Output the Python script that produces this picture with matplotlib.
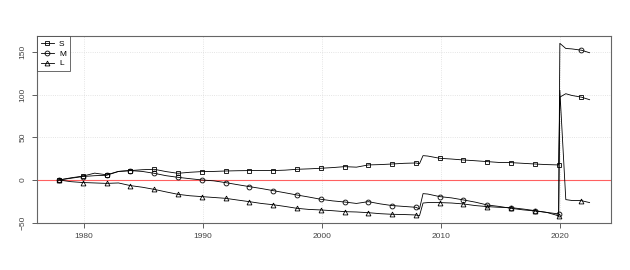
import matplotlib
matplotlib.use("Agg")
import matplotlib.pyplot as plt

plt.rcParams['font.family'] = ['Liberation Sans', 'DejaVu Sans']

# shared time axis (decimal years)
years = [1977.9, 1978.9, 1979.9, 1980.9, 1981.9, 1982.9, 1983.9, 1984.9, 1985.9, 1986.9,
         1987.9, 1988.9, 1989.9, 1990.9, 1991.9, 1992.9, 1993.9, 1994.9, 1995.9, 1996.9,
         1997.9, 1998.9, 1999.9, 2000.9, 2001.9, 2002.9, 2003.9, 2004.9, 2005.9, 2006.9,
         2007.9, 2008.2, 2008.5, 2008.9, 2009.9, 2010.9, 2011.9, 2012.9, 2013.9, 2014.9,
         2015.9, 2016.9, 2017.9, 2018.9, 2019.9, 2020.0, 2020.5, 2021.0, 2021.8, 2022.5]

S = [0, 2.5, 4.5, 8, 6, 10, 11, 12, 12.5, 9.8,
     7.8, 9, 9.8, 10, 10.5, 10.8, 11, 11, 11, 11.5,
     12.5, 13, 13.7, 14.5, 15.6, 15, 17.6, 18, 18.7, 19.5,
     19.9, 19, 28.5, 28, 25.4, 24.5, 23.4, 22.5, 21.5, 20.5,
     20.3, 19.5, 18.7, 18, 17.6, 97, 101, 99, 97, 94]

M = [0, 2, 4, 5, 5.5, 10, 11, 10, 7.8, 5,
     3.1, 1.5, 0, -1, -3.1, -5.5, -7.8, -10, -12.5, -15,
     -17.6, -20, -22.6, -24.5, -25.8, -27.5, -25.4, -28, -30, -31,
     -32, -34, -16, -16.5, -19.5, -21, -23.4, -26, -29.3, -31,
     -33.2, -35, -36.3, -38, -39.8, 160, 154, 153.5, 152, 149]

L = [0, -2, -3, -3.5, -4, -3.5, -6.6, -8.5, -11, -14,
     -16.8, -18.5, -19.5, -20.5, -21.5, -23.5, -25.4, -27.5, -29, -31,
     -33.2, -34.5, -35.1, -36, -37.1, -37.5, -38.3, -39.5, -40.2, -40.5,
     -41, -42, -27, -26.5, -26.5, -27, -28.1, -30, -31.2, -32,
     -32.4, -34, -35.9, -38, -42, 105, -23, -24, -24.2, -26.5]

marker_years = [1977.9 + 2 * k for k in range(22)] + [2021.8]
labels = ["S", "M", "L"]
markers = ["s", "o", "^"]

marks = [i for i, y in enumerate(years) if any(abs(y - m) < 0.01 for m in marker_years)]

fig = plt.figure(figsize=(6.3, 2.7), dpi=100)
ax = fig.add_axes([37 / 630, 47 / 270, 574 / 630, 187 / 270])

for vals, lab, mk in zip([S, M, L], labels, markers):
    ax.plot(years, vals, color="black", lw=0.6, marker=mk, markevery=marks,
            markersize=3.5, markerfacecolor="none", markeredgewidth=0.6, label=lab,
            zorder=3)

ax.axhline(0, color="#ff6060", lw=0.8, zorder=2)

ax.set_xlim(1976.05, 2024.3)
ax.set_ylim(-50.4, 168.6)
ax.set_xticks([1980, 1990, 2000, 2010, 2020])
ax.set_yticks([-50, 0, 50, 100, 150])
ax.grid(True, color="#dcdcdc", linestyle=":", lw=0.6)
ax.set_axisbelow(True)

for sp in ax.spines.values():
    sp.set_color("#666666")
    sp.set_linewidth(0.8)
ax.tick_params(labelsize=6, length=3.5, width=0.6, colors="#444444", pad=4)
for t in ax.get_yticklabels():
    t.set_rotation(90)
    t.set_va("center")

leg = ax.legend(loc="upper left", fontsize=6, frameon=True, fancybox=False,
                borderaxespad=0, handlelength=1.6, handletextpad=0.6,
                labelspacing=0.25, borderpad=0.45)
leg.get_frame().set_edgecolor("#444444")
leg.get_frame().set_linewidth(0.7)

fig.savefig("out.png", dpi=100)
